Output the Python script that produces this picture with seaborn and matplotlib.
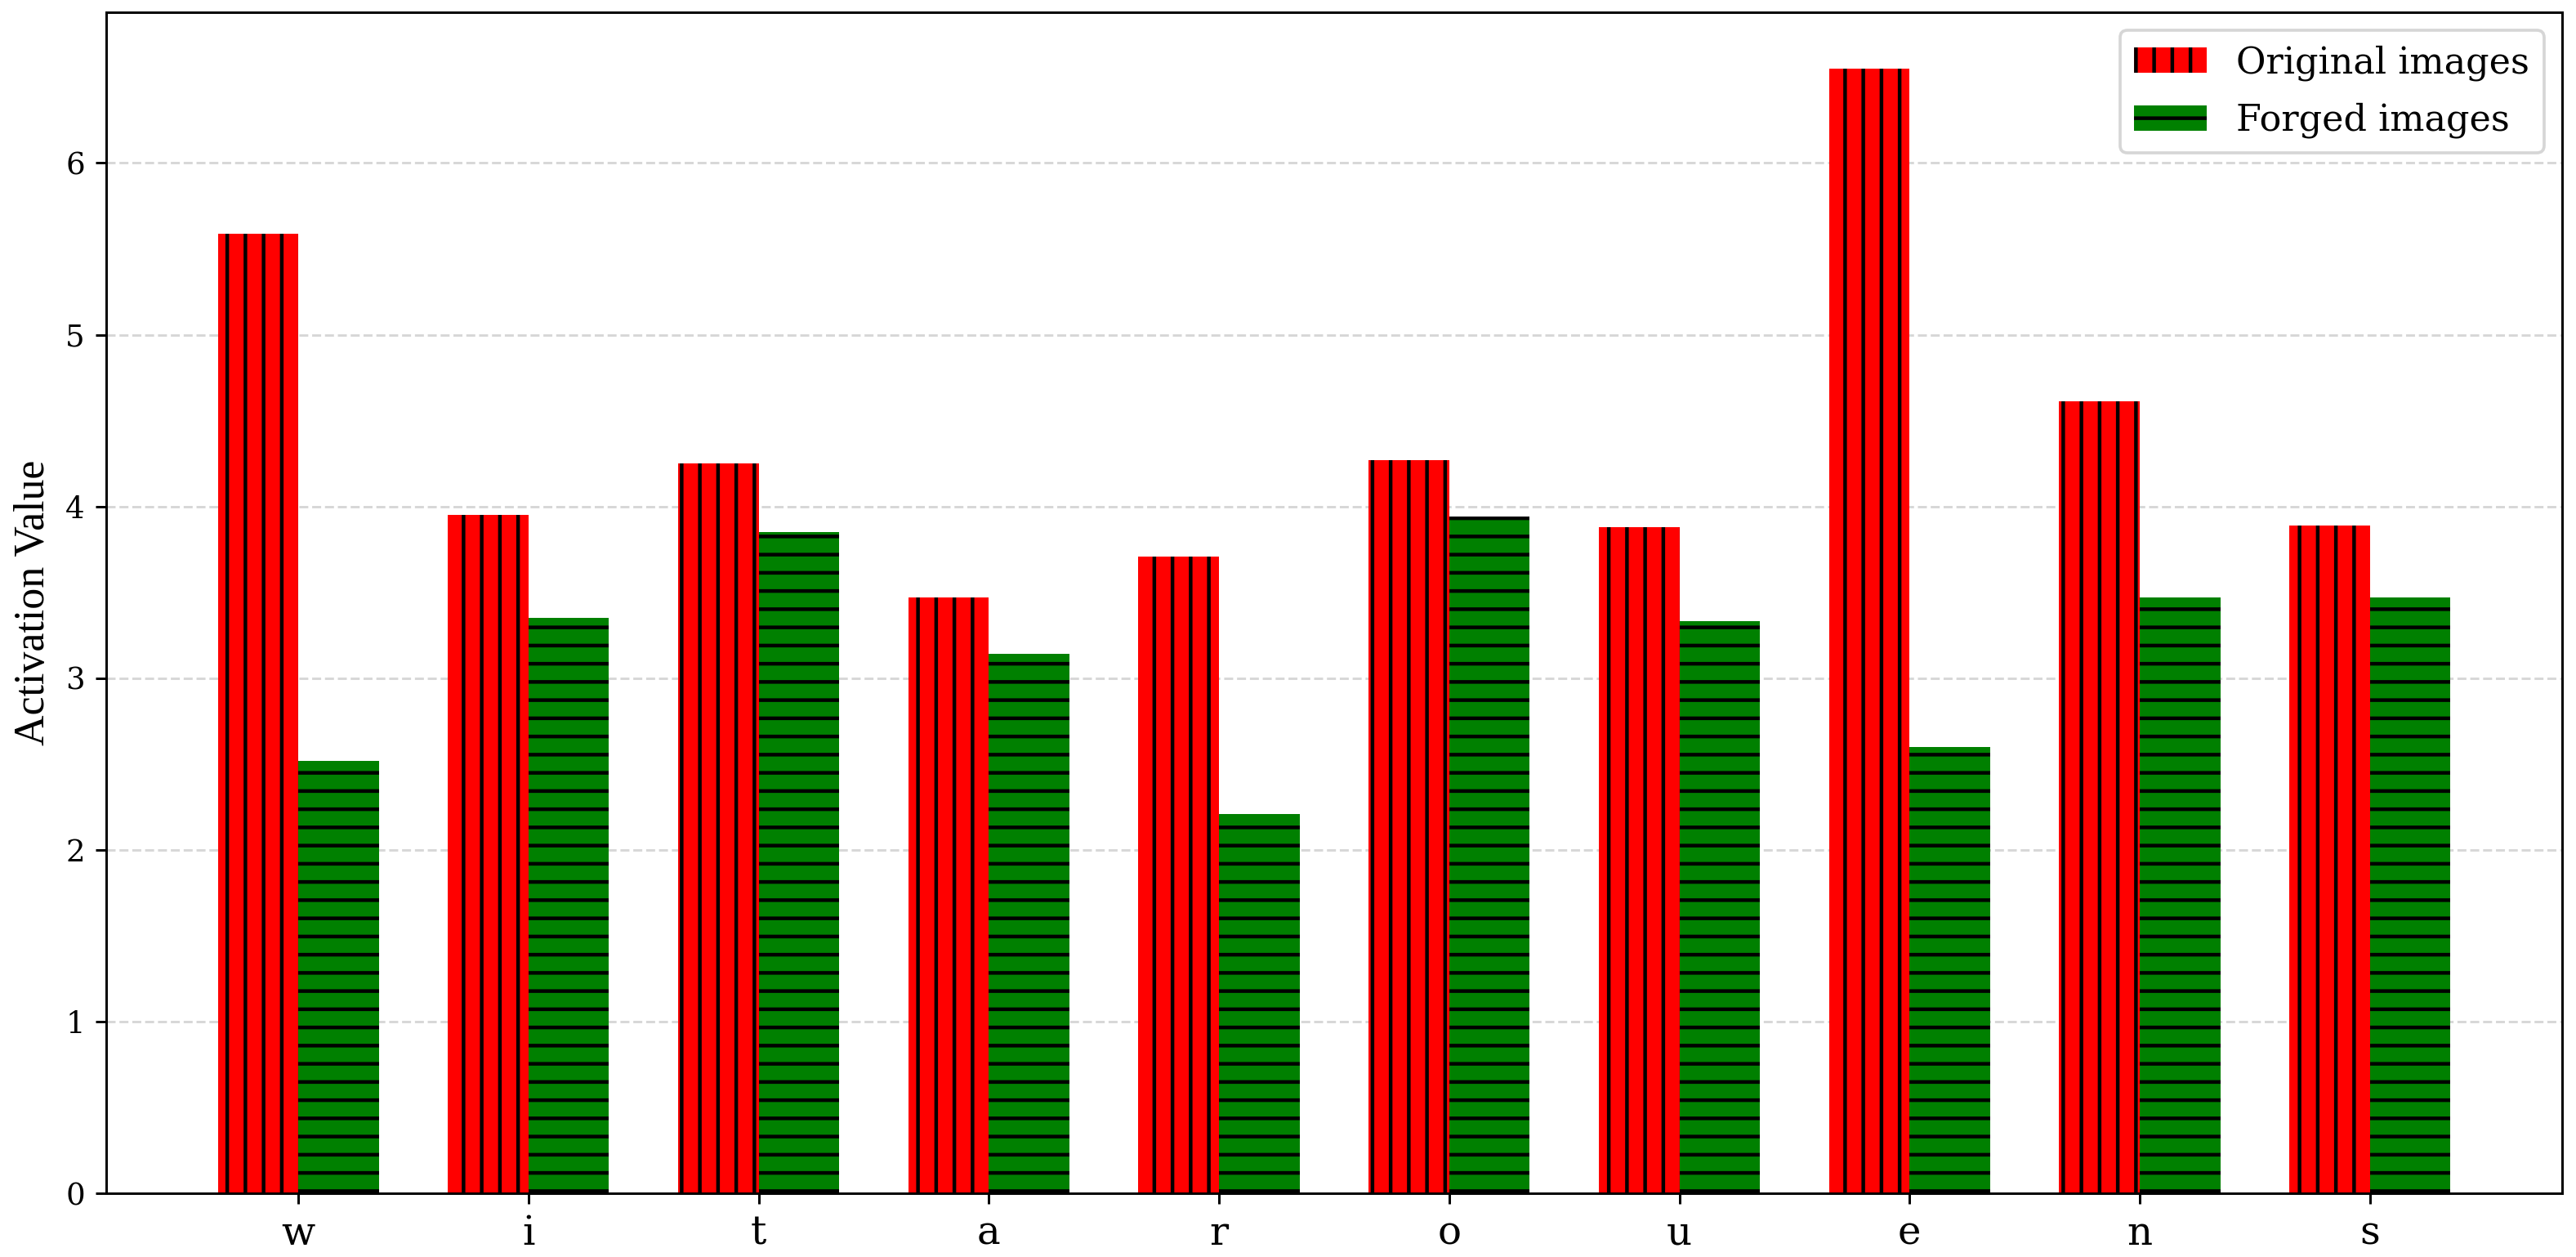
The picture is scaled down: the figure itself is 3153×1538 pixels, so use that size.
#%%
import pandas as pd
import seaborn as sns
import matplotlib.pyplot as plt

# values
letters = ['w', 'i', 't', 'a', 'r', 'o', 'u', 'e', 'n', 's']
original = [5.59, 3.95, 4.25, 3.47, 3.71, 4.27, 3.88, 6.55, 4.61, 3.89]
forged = [2.52, 3.35, 3.85, 3.14, 2.21, 3.94, 3.33, 2.60, 3.47, 3.47]
series_names = ['Original images', 'Forged images']

df = pd.DataFrame({
    'letter': letters * 2,
    'value': original + forged,
    'kind': [series_names[0]] * len(letters) + [series_names[1]] * len(letters),
})

#%%
plt.rcParams['font.family'] = ['DejaVu Serif']
plt.rcParams['hatch.linewidth'] = 1.2

dpi = 267
fig, ax = plt.subplots(figsize=(3153 / dpi, 1538 / dpi), dpi=dpi)
fig.subplots_adjust(left=0.0412, right=0.9946, top=0.9902, bottom=0.0507)

sns.barplot(data=df, x='letter', y='value', hue='kind', hue_order=series_names,
            palette=['red', 'green'], saturation=1, width=0.7,
            edgecolor='black', linewidth=0, legend=False, ax=ax)

# hatch each series
for cont, h in zip(ax.containers, ['||', '--']):
    for bar in cont:
        bar.set_hatch(h)

ax.set_xlim(-0.835, len(letters) - 1 + 0.835)
ax.set_ylim(0, max(original) * 1.05)

ax.set_axisbelow(True)
ax.yaxis.grid(True, linestyle='--', color='#b0b0b0', alpha=0.5, linewidth=0.8)
ax.xaxis.grid(False)

ax.set_xlabel('')
ax.set_ylabel('Activation Value', fontsize=14, family='Liberation Serif')
ax.tick_params(axis='x', labelsize=13)
ax.tick_params(axis='y', labelsize=10)

ax.legend(ax.containers, series_names, loc='upper right', fontsize=12,
          labelspacing=0.6)

fig.savefig('out.png', dpi=dpi)
